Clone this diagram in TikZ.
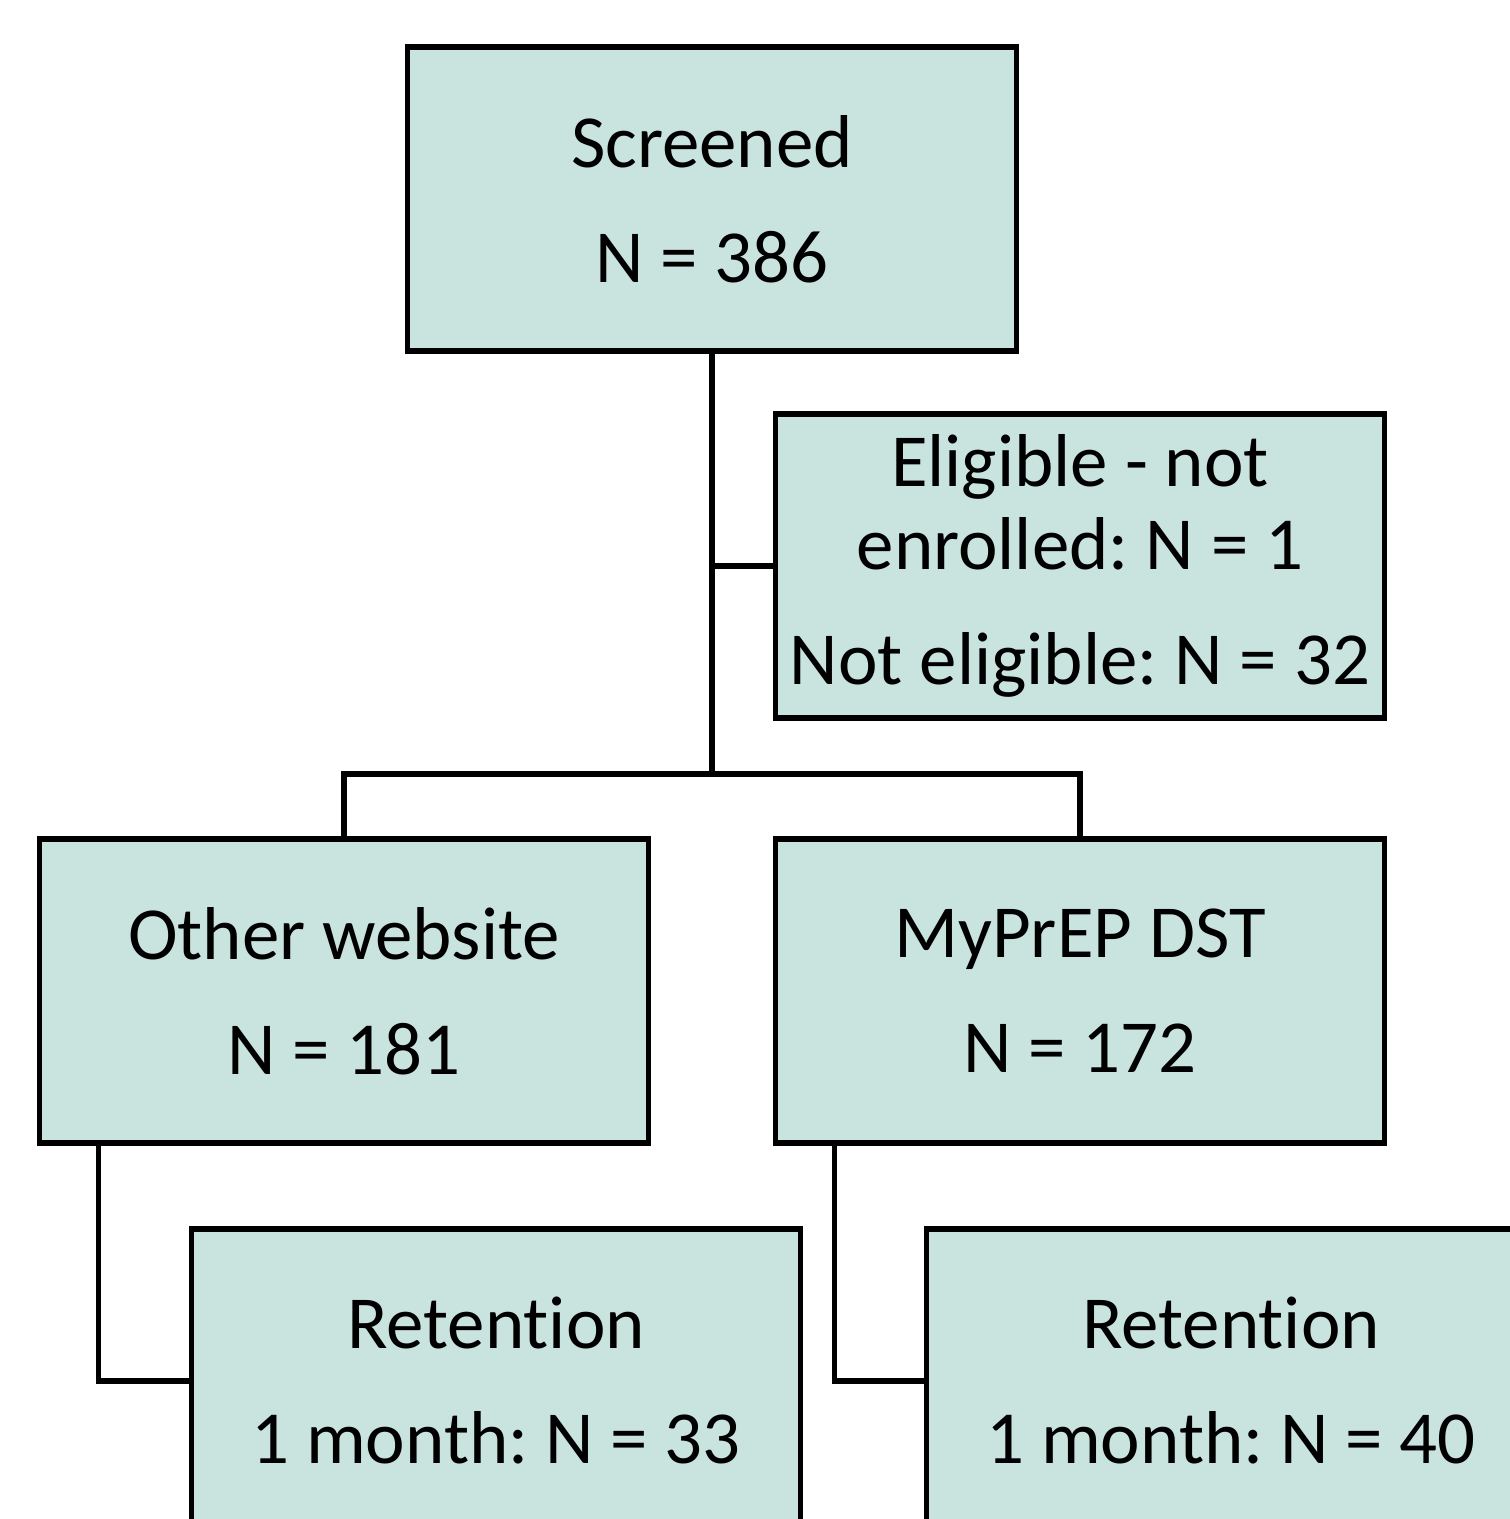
\documentclass[tikz,border=0pt]{standalone}
\usepackage{fontspec}
\setmainfont{Carlito}[RawFeature=-liga]
\frenchspacing
\definecolor{boxfill}{HTML}{C9E3DF}
\tikzset{
  stage/.style={draw=black, fill=boxfill, line width=1.5pt,
    minimum width=6.08cm, minimum height=3.04cm, inner sep=0pt,
    align=center, font=\fontsize{21.3}{23.6}\selectfont},
  link/.style={line width=1.5pt}
}
\newcommand{\pgap}{\\[9.1pt]}
\begin{document}
\begin{tikzpicture}[x=0.01cm, y=-0.01cm]
  \useasboundingbox (0,0) rectangle (1510,1519);
  \clip (0,0) rectangle (1510,1519);
  \node[stage] (scr) at (712,199) {Screened\pgap N = 386};
  \node[stage] (excl) at (1080,566) {Eligible - not\\enrolled: N = 1\pgap Not eligible: N = 32};
  \node[stage] (oth) at (344,991) {Other website\pgap N = 181};
  \node[stage] (dst) at (1080,991) {MyPrEP DST\pgap N = 172};
  \node[stage] (ret1) at (496,1381) {Retention\pgap 1 month: N = 33};
  \node[stage] (ret2) at (1231,1381) {Retention\pgap 1 month: N = 40};
  \coordinate (side) at (712,566);
  \coordinate (fork) at (712,774);
  \begin{scope}[link]
    \draw (scr.south) -- (fork);
    \draw (side) -- (excl.west);
    \draw (oth.north) |- (fork) -| (dst.north);
    \draw ([xshift=0.61cm]oth.south west) |- (ret1.west);
    \draw ([xshift=0.61cm]dst.south west) |- (ret2.west);
  \end{scope}
\end{tikzpicture}
\end{document}
